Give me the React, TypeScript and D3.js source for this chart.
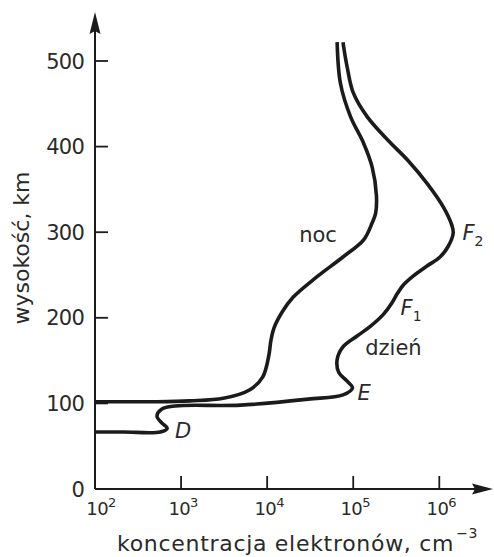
import React from "react";
import * as d3 from "d3";

// ---- data (electron concentration in cm^-3, altitude in km) ----
const dayN = [7.6e4, 8.5e4, 1.0e5, 1.45e5, 2.5e5, 4.3e5, 7.2e5, 1.12e6, 1.4e6, 1.45e6, 1.26e6, 1.02e6, 7.2e5, 5.0e5, 3.8e5, 3.24e5, 2.8e5, 2.24e5, 1.58e5, 1.12e5, 7.6e4, 6.5e4, 6.8e4, 8.5e4, 9.8e4, 7.6e4, 3.0e4, 4.9e3, 850, 600, 525, 600, 690, 575, 215, 100];
const dayAlt = [522, 493, 463, 435, 408, 384, 357, 329, 308, 299, 283, 271, 260.5, 249, 238, 228, 217, 204, 190, 179, 166, 151, 136, 126, 118, 110, 105, 98, 97, 93.5, 85, 77, 71, 66.6, 66.6, 66.6];

const nightN = [6.5e4, 7.1e4, 9.3e4, 1.32e5, 1.66e5, 1.86e5, 1.82e5, 1.66e5, 1.32e5, 7.6e4, 3.8e4, 2.0e4, 1.5e4, 1.2e4, 1.1e4, 1.05e4, 8.9e3, 6.3e3, 3.1e3, 1.26e3, 525, 100];
const nightAlt = [522, 474, 435, 404, 376, 343, 322, 311, 291, 271, 248, 224, 207, 188, 172, 157, 131, 116, 106, 103, 102, 102];

const xTickValues = [1e2, 1e3, 1e4, 1e5, 1e6];
const yTickValues = [0, 100, 200, 300, 400, 500];

const yTitle = "wysokość, km";
const xTitle = "koncentracja elektronów, cm";
const xTitleSup = "−3";

// annotations: text, concentration, altitude
const labelText = ["noc", "dzień"];
const labelN = [3.9e4, 1.38e5];
const labelAlt = [289, 156];

const layerText = ["D", "E", "F", "F"];
const layerSub = ["", "", "1", "2"];
const layerN = [850, 1.12e5, 3.55e5, 1.86e6];
const layerAlt = [60, 104, 203, 291];

const W = 494;
const H = 557;
const INK = "#1b1b1b";
const TXT = "#2a2a2a";
const FONT = "DejaVu Sans, Verdana, sans-serif";

export default function App() {
  const x = d3.scaleLog().domain([1e2, 1e6]).range([95, 439.3]);
  const y = d3.scaleLinear().domain([0, 500]).range([489, 61]);

  const line = d3
    .line<[number, number]>()
    .x((d) => x(d[0]))
    .y((d) => y(d[1]))
    .curve(d3.curveCatmullRom.alpha(0.5));

  const dayPts = dayN.map((n, i) => [n, dayAlt[i]] as [number, number]);
  const nightPts = nightN.map((n, i) => [n, nightAlt[i]] as [number, number]);

  const x0 = x(1e2);
  const y0 = y(0);
  const yTop = 12;
  const xRight = 493;

  return (
    <svg
      width={W}
      height={H}
      viewBox={`0 0 ${W} ${H}`}
      style={{ position: "absolute", left: 0, top: 0, background: "#fff" }}
      fontFamily={FONT}
    >
      <rect x={0} y={0} width={W} height={H} fill="#fff" />
      {/* axes */}
      <line x1={x0} y1={y0} x2={x0} y2={yTop + 10} stroke={INK} strokeWidth={2} />
      <line x1={x0} y1={y0} x2={xRight - 10} y2={y0} stroke={INK} strokeWidth={2} />
      <path d={`M${x0},${yTop} L${x0 + 5.5},${yTop + 22} L${x0},${yTop + 19} L${x0 - 5.5},${yTop + 22} Z`} fill={INK} />
      <path d={`M${xRight},${y0} L${xRight - 21},${y0 - 5.5} L${xRight - 18},${y0} L${xRight - 21},${y0 + 5.5} Z`} fill={INK} />

      {/* y ticks */}
      {yTickValues.map((v) => (
        <g key={"y" + v}>
          {v > 0 && <line x1={x0} x2={x0 + 13} y1={y(v)} y2={y(v)} stroke={INK} strokeWidth={1.8} />}
          <text x={84} y={y(v)} dy="0.36em" textAnchor="end" fontSize={21} letterSpacing={-0.8} fill={TXT}>
            {v}
          </text>
        </g>
      ))}

      {/* x ticks */}
      {xTickValues.map((v, i) => (
        <g key={"x" + v}>
          {i > 0 && <line x1={x(v)} x2={x(v)} y1={y0} y2={y0 - 13} stroke={INK} strokeWidth={1.8} />}
          <text x={x(v) + (i === 0 ? 6 : 2)} y={515} textAnchor="middle" fontSize={18} fill={TXT} letterSpacing={-0.6}>
            10
            <tspan fontSize={13} dy={-8}>
              {Math.round(Math.log10(v))}
            </tspan>
          </text>
        </g>
      ))}

      {/* axis titles */}
      <text transform={`translate(29,248) rotate(-90)`} textAnchor="middle" fontSize={22} fill={TXT}>
        {yTitle}
      </text>
      <text x={117} y={551} fontSize={22} letterSpacing={0.7} fill={TXT}>
        {xTitle}
        <tspan fontSize={14} dy={-13} dx={2}>
          {xTitleSup}
        </tspan>
      </text>

      {/* curves */}
      <path d={line(nightPts) || ""} fill="none" stroke={INK} strokeWidth={3.6} strokeLinejoin="round" />
      <path d={line(dayPts) || ""} fill="none" stroke={INK} strokeWidth={3.6} strokeLinejoin="round" />

      {/* curve labels */}
      {labelText.map((t, i) => (
        <text
          key={t}
          x={x(labelN[i])}
          y={y(labelAlt[i])}
          textAnchor={i === 0 ? "middle" : "start"}
          fontSize={21}
          fill={TXT}
        >
          {t}
        </text>
      ))}

      {/* layer labels */}
      {layerText.map((t, i) => (
        <text key={t + i} x={x(layerN[i])} y={y(layerAlt[i])} fontSize={21} fontStyle="italic" fill={TXT}>
          {t}
          {layerSub[i] && (
            <tspan fontSize={14} dy={6} fontStyle="normal">
              {layerSub[i]}
            </tspan>
          )}
        </text>
      ))}
    </svg>
  );
}
